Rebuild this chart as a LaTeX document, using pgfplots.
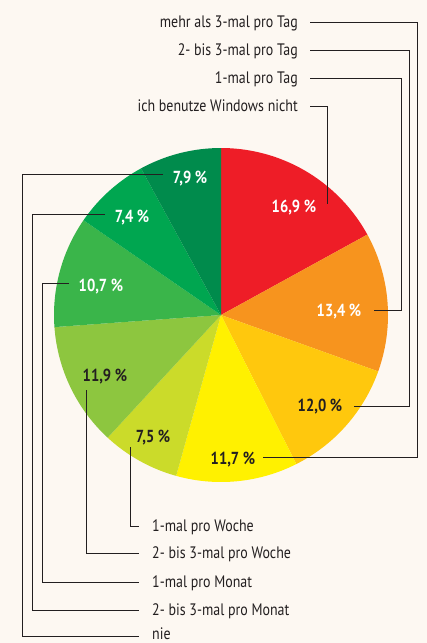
\documentclass[border=0pt]{standalone}
\usepackage{pgfplots}
\pgfplotsset{compat=1.18}
\usepackage{fontspec}
\setmainfont{PT Sans}[FakeStretch=0.84]
\definecolor{bg}{HTML}{FDF8F2}
\definecolor{ln}{HTML}{231F20}
\definecolor{s1}{HTML}{EE1D27}
\definecolor{s2}{HTML}{F7941E}
\definecolor{s3}{HTML}{FFC80D}
\definecolor{s4}{HTML}{FFF100}
\definecolor{s5}{HTML}{CBDB2A}
\definecolor{s6}{HTML}{8DC63F}
\definecolor{s7}{HTML}{3AB54A}
\definecolor{s8}{HTML}{00A650}
\definecolor{s9}{HTML}{008B4C}
\begin{document}
\begin{tikzpicture}
\begin{axis}[width=427pt,height=643pt,scale only axis,
  xmin=0,xmax=427,ymin=0,ymax=643,y dir=reverse,hide axis,clip=false]
\fill[bg] (axis cs:0,0) rectangle (axis cs:427,643);
% shares in percent, clockwise from top; total 99.4
% cumulative: 0,16.9,30.3,42.3,54.0,61.5,73.4,84.1,91.5,99.4
\addplot[fill=s1,draw=none,samples=60,domain=90-360*16.9/99.4:90-360*0/99.4]
  ({221+167*cos(x)},{315-167*sin(x)}) -- (axis cs:221,315) -- cycle;
\addplot[fill=s2,draw=none,samples=60,domain=90-360*30.3/99.4:90-360*16.9/99.4]
  ({221+167*cos(x)},{315-167*sin(x)}) -- (axis cs:221,315) -- cycle;
\addplot[fill=s3,draw=none,samples=60,domain=90-360*42.3/99.4:90-360*30.3/99.4]
  ({221+167*cos(x)},{315-167*sin(x)}) -- (axis cs:221,315) -- cycle;
\addplot[fill=s4,draw=none,samples=60,domain=90-360*54.0/99.4:90-360*42.3/99.4]
  ({221+167*cos(x)},{315-167*sin(x)}) -- (axis cs:221,315) -- cycle;
\addplot[fill=s5,draw=none,samples=60,domain=90-360*61.5/99.4:90-360*54.0/99.4]
  ({221+167*cos(x)},{315-167*sin(x)}) -- (axis cs:221,315) -- cycle;
\addplot[fill=s6,draw=none,samples=60,domain=90-360*73.4/99.4:90-360*61.5/99.4]
  ({221+167*cos(x)},{315-167*sin(x)}) -- (axis cs:221,315) -- cycle;
\addplot[fill=s7,draw=none,samples=60,domain=90-360*84.1/99.4:90-360*73.4/99.4]
  ({221+167*cos(x)},{315-167*sin(x)}) -- (axis cs:221,315) -- cycle;
\addplot[fill=s8,draw=none,samples=60,domain=90-360*91.5/99.4:90-360*84.1/99.4]
  ({221+167*cos(x)},{315-167*sin(x)}) -- (axis cs:221,315) -- cycle;
\addplot[fill=s9,draw=none,samples=60,domain=90-360*99.4/99.4:90-360*91.5/99.4]
  ({221+167*cos(x)},{315-167*sin(x)}) -- (axis cs:221,315) -- cycle;
% leader lines
\draw[ln,line width=0.9pt] (axis cs:310,22) -- (axis cs:417,22) -- (axis cs:417,457) -- (axis cs:263,457);
\draw[ln,line width=0.9pt] (axis cs:310,50) -- (axis cs:409,50) -- (axis cs:409,406) -- (axis cs:354,406);
\draw[ln,line width=0.9pt] (axis cs:310,78) -- (axis cs:401,78) -- (axis cs:401,310) -- (axis cs:374,310);
\draw[ln,line width=0.9pt] (axis cs:310,106) -- (axis cs:327,106) -- (axis cs:327,204);
\draw[ln,line width=0.9pt] (axis cs:130,447) -- (axis cs:130,526) -- (axis cs:139,526);
\draw[ln,line width=0.9pt] (axis cs:86,390) -- (axis cs:86,553) -- (axis cs:139,553);
\draw[ln,line width=0.9pt] (axis cs:69,283) -- (axis cs:42,283) -- (axis cs:42,582) -- (axis cs:139,582);
\draw[ln,line width=0.9pt] (axis cs:105,214) -- (axis cs:32,214) -- (axis cs:32,610) -- (axis cs:139,610);
\draw[ln,line width=0.9pt] (axis cs:163,174) -- (axis cs:22,174) -- (axis cs:22,636) -- (axis cs:139,636);
% category labels
\begin{scope}[every node/.style={inner sep=0pt,text=ln,font=\fontsize{16.6}{18}\selectfont}]
\node[anchor=base east] at (axis cs:298,27) {mehr als 3-mal pro Tag};
\node[anchor=base east] at (axis cs:298,55) {2- bis 3-mal pro Tag};
\node[anchor=base east] at (axis cs:298,83) {1-mal pro Tag};
\node[anchor=base east] at (axis cs:298,111) {ich benutze Windows nicht};
\node[anchor=base west] at (axis cs:152,531) {1-mal pro Woche};
\node[anchor=base west] at (axis cs:152,558) {2- bis 3-mal pro Woche};
\node[anchor=base west] at (axis cs:152,587) {1-mal pro Monat};
\node[anchor=base west] at (axis cs:152,615) {2- bis 3-mal pro Monat};
\node[anchor=base west] at (axis cs:152,639.5) {nie};
\end{scope}
% value labels
\begin{scope}[every node/.style={inner sep=0pt,font=\fontsize{17.4}{19}\selectfont\bfseries,anchor=base}]
\node[text=white] at (axis cs:294,212) {16,9 \%};
\node[text=white] at (axis cs:339,316) {13,4 \%};
\node[text=ln] at (axis cs:320,411) {12,0 \%};
\node[text=ln] at (axis cs:233,464) {11,7 \%};
\node[text=ln] at (axis cs:153,442) {7,5 \%};
\node[text=ln] at (axis cs:105,381) {11,9 \%};
\node[text=white] at (axis cs:101,291) {10,7 \%};
\node[text=white] at (axis cs:132,222) {7,4 \%};
\node[text=white] at (axis cs:190,183) {7,9 \%};
\end{scope}
\end{axis}
\end{tikzpicture}
\end{document}
